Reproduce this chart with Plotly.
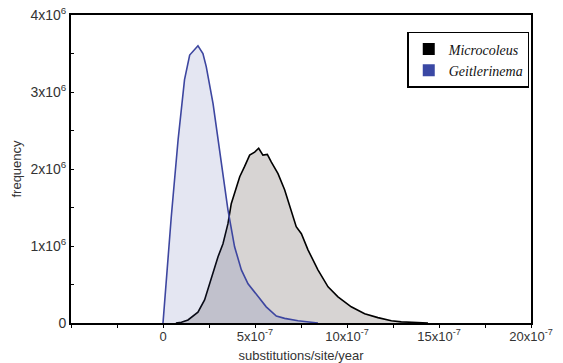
import plotly.graph_objects as go

# substitution rate in units of 1e-7 substitutions/site/year, frequency in units of 1e6
geit_x = [0, 0.45, 0.82, 1.17, 1.45, 1.75, 1.90, 2.17, 2.35, 2.72, 2.99, 3.26, 3.53, 3.89,
          4.26, 4.62, 5.16, 5.61, 6.16, 6.61, 7.34, 8.42]
geit_y = [0, 1.38, 2.38, 3.16, 3.48, 3.57, 3.60, 3.50, 3.33, 2.85, 2.38, 1.94, 1.47, 0.99,
          0.69, 0.51, 0.34, 0.21, 0.09, 0.06, 0.03, 0.0]

micro_x = [0.7, 1.0, 1.36, 1.90, 2.26, 2.63, 2.99, 3.26, 3.53, 3.71, 3.98, 4.17, 4.43, 4.71,
           4.98, 5.20, 5.43, 5.67, 5.89, 6.25, 6.61, 6.97, 7.24, 7.52, 7.88, 8.42, 8.97,
           9.51, 10.23, 10.96, 11.68, 12.41, 12.95, 14.4]
micro_y = [0, 0.01, 0.04, 0.14, 0.30, 0.60, 0.86, 1.03, 1.29, 1.55, 1.77, 1.90, 2.03, 2.18,
           2.22, 2.27, 2.18, 2.19, 2.09, 1.94, 1.73, 1.47, 1.25, 1.16, 0.95, 0.69, 0.47,
           0.34, 0.21, 0.12, 0.07, 0.03, 0.015, 0.0]

x_tickvals = [0, 5, 10, 15, 20]
x_ticktext = ["0", "5x10<sup>-7</sup>", "10x10<sup>-7</sup>", "15x10<sup>-7</sup>", "20x10<sup>-7</sup>"]
y_tickvals = [0, 1, 2, 3, 4]
y_ticktext = ["0", "1x10<sup>6</sup>", "2x10<sup>6</sup>", "3x10<sup>6</sup>", "4x10<sup>6</sup>"]

series_names = ["Microcoleus", "Geitlerinema"]
line_colors = ["#000000", "#3d46a0"]
fill_colors = ["rgba(200,196,194,0.72)", "rgba(61,70,160,0.137)"]
legend_colors = ["#000000", "#3a48a4"]

fig = go.Figure()
fig.add_trace(go.Scatter(x=micro_x, y=micro_y, mode="lines", fill="tozeroy",
                         line=dict(color=line_colors[0], width=1.6),
                         fillcolor=fill_colors[0], showlegend=False, hoverinfo="skip"))
fig.add_trace(go.Scatter(x=geit_x, y=geit_y, mode="lines", fill="tozeroy",
                         line=dict(color=line_colors[1], width=1.6),
                         fillcolor=fill_colors[1], showlegend=False, hoverinfo="skip"))
for name, col in zip(series_names, legend_colors):
    fig.add_trace(go.Scatter(x=[None], y=[None], mode="markers", name="<i>" + name + "</i>",
                             marker=dict(symbol="square", size=10, color=col)))

axis_font = dict(family="Liberation Sans, Arial, sans-serif", size=13, color="#333333")
fig.update_layout(
    width=563, height=363,
    margin=dict(l=71, r=32, t=15, b=40),
    paper_bgcolor="white", plot_bgcolor="white",
    showlegend=True,
    legend=dict(x=0.731, y=0.945, xanchor="left", yanchor="top",
                bordercolor="black", borderwidth=1.5, bgcolor="white",
                font=dict(family="Liberation Serif, Times New Roman, serif", size=14, color="#111111"),
                itemsizing="constant", tracegroupgap=2),
    xaxis=dict(range=[-5, 20], tickvals=x_tickvals, ticktext=x_ticktext, automargin=False,
               showgrid=False, zeroline=False, showline=True, linecolor="black", linewidth=2,
               mirror=True, ticks="outside", ticklen=3, tickcolor="black",
               minor=dict(dtick=2.5, ticks="outside", ticklen=3, tickcolor="black"),
               tickfont=axis_font, ticklabelstandoff=-3,
               title=dict(text="substitutions/site/year", font=axis_font, standoff=8)),
    yaxis=dict(range=[0, 4], tickvals=y_tickvals, ticktext=y_ticktext, automargin=False,
               showgrid=False, zeroline=False, showline=True, linecolor="black", linewidth=2,
               mirror=True, ticks="inside", ticklen=3, tickcolor="black",
               minor=dict(dtick=0.5, ticks="inside", ticklen=3, tickcolor="black"),
               tickfont=dict(family="Liberation Sans, Arial, sans-serif", size=14, color="#333333"),
               title=dict(text="frequency", font=axis_font, standoff=6)),
)

fig.write_html("out.html", config={"displayModeBar": False},
               post_script="document.body.style.margin='0';document.body.style.padding='0';")
